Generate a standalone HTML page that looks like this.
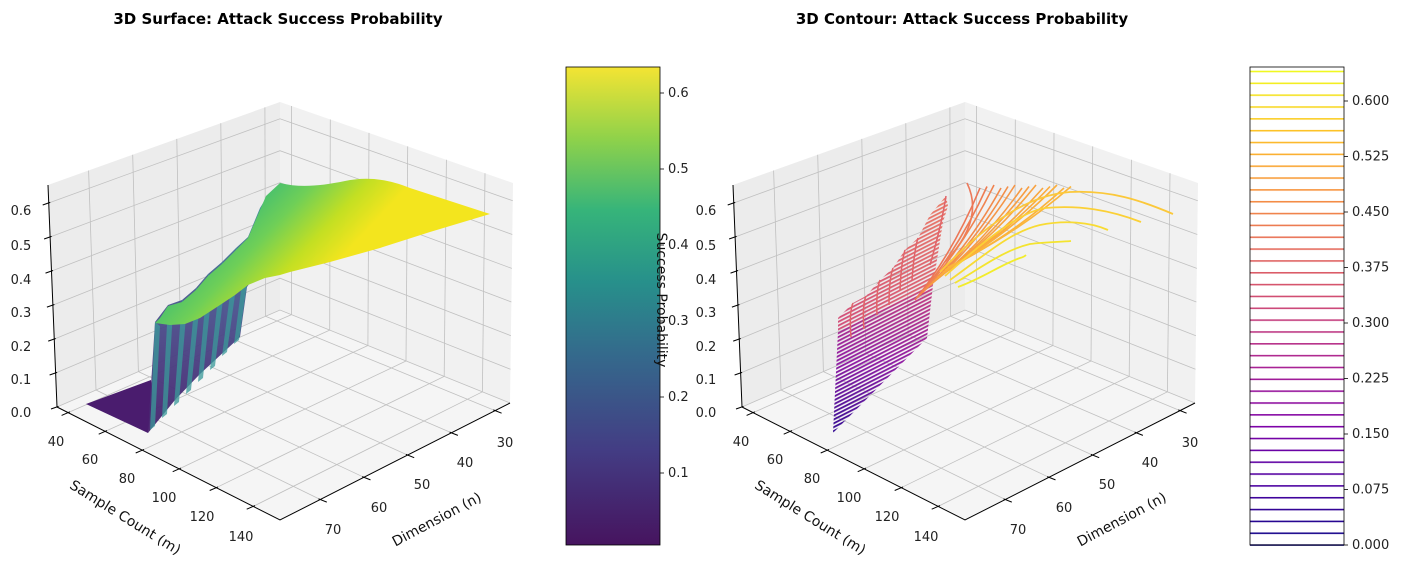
<!DOCTYPE html>
<html><head><meta charset="utf-8"><style>
html,body{margin:0;padding:0;background:#fff;}
svg{display:block;font-family:"DejaVu Sans","Liberation Sans",sans-serif;}
.t{font-size:13px;fill:#222;}
.ttl{font-size:15px;font-weight:bold;fill:#000;}
.al{font-size:14px;fill:#111;}
</style></head><body>
<svg width="1403" height="571" viewBox="0 0 1403 571" xmlns="http://www.w3.org/2000/svg">
<defs>
<linearGradient id="vir" x1="0" y1="1" x2="0" y2="0">
<stop offset="0" stop-color="#46145f"/><stop offset="0.2" stop-color="#433d84"/><stop offset="0.4" stop-color="#346a8c"/><stop offset="0.55" stop-color="#27908b"/><stop offset="0.7" stop-color="#36b47a"/><stop offset="0.85" stop-color="#8fd24a"/><stop offset="1" stop-color="#f4e433"/>
</linearGradient>
<linearGradient id="pla" gradientUnits="userSpaceOnUse" x1="0" y1="545" x2="0" y2="71">
<stop offset="0" stop-color="#0d0887"/><stop offset="0.125" stop-color="#4c02a1"/><stop offset="0.25" stop-color="#7e03a8"/><stop offset="0.375" stop-color="#a92395"/><stop offset="0.5" stop-color="#cc4778"/><stop offset="0.625" stop-color="#e56b5d"/><stop offset="0.75" stop-color="#f89540"/><stop offset="0.875" stop-color="#fdc328"/><stop offset="1" stop-color="#f0f921"/>
</linearGradient>
<pattern id="cbp" patternUnits="userSpaceOnUse" x="0" y="544.3" width="200" height="11.84">
<rect width="200" height="11.84" fill="#000"/><rect width="200" height="1.6" fill="#fff"/>
</pattern>
<mask id="cbm" maskUnits="userSpaceOnUse" x="1250" y="67" width="94" height="479"><rect x="1250" y="67" width="94" height="479" fill="url(#cbp)"/></mask>
<linearGradient id="surf" gradientUnits="userSpaceOnUse" x1="250" y1="195" x2="330" y2="270">
<stop offset="0" stop-color="#3dbc74"/><stop offset="0.35" stop-color="#6fcf57"/><stop offset="0.7" stop-color="#c2df23"/><stop offset="1" stop-color="#f3e51e"/>
</linearGradient>
<linearGradient id="wall" gradientUnits="userSpaceOnUse" x1="0" y1="430" x2="0" y2="200">
<stop offset="0" stop-color="#47216e"/><stop offset="0.5" stop-color="#4a4f8c"/><stop offset="1" stop-color="#3a8a9a"/>
</linearGradient>
<linearGradient id="purp" gradientUnits="userSpaceOnUse" x1="880" y1="435" x2="880" y2="290">
<stop offset="0" stop-color="#2f0a92"/><stop offset="0.5" stop-color="#8f1ba3"/><stop offset="1" stop-color="#c53e80"/>
</linearGradient>
<linearGradient id="pink" gradientUnits="userSpaceOnUse" x1="880" y1="330" x2="930" y2="195">
<stop offset="0" stop-color="#d3507a"/><stop offset="1" stop-color="#ea7a66"/>
</linearGradient>
<pattern id="hatch" patternUnits="userSpaceOnUse" width="6" height="3.4" patternTransform="rotate(-27)">
<rect width="6" height="3.4" fill="#000"/><rect width="6" height="1.8" fill="#fff"/>
</pattern>
<mask id="hm" maskUnits="userSpaceOnUse" x="0" y="0" width="1403" height="571"><rect width="1403" height="571" fill="url(#hatch)"/></mask>

<g id="panel">
<polygon points="280,310 57,407 48,185 280,102" fill="#ececec"/>
<polygon points="280,310 510,403 513,183 280,102" fill="#f1f1f1"/>
<polygon points="280,310 57,407 280,520 510,403" fill="#f5f5f5"/>
<g stroke="#c0c0c0" stroke-width="0.8">
<line x1="265.5" y1="316.3" x2="264.9" y2="107.4"/><line x1="223.1" y1="334.7" x2="220.8" y2="123.2"/><line x1="180.8" y1="353.2" x2="176.8" y2="138.9"/><line x1="138.4" y1="371.6" x2="132.7" y2="154.7"/><line x1="96" y1="390" x2="88.6" y2="170.5"/>
<line x1="265.5" y1="316.3" x2="495.1" y2="410.6"/><line x1="223.1" y1="334.7" x2="451.4" y2="432.8"/><line x1="180.8" y1="353.2" x2="407.7" y2="455.1"/><line x1="138.4" y1="371.6" x2="364" y2="477.3"/><line x1="96" y1="390" x2="320.3" y2="499.5"/>
<line x1="291.5" y1="314.6" x2="291.6" y2="106"/><line x1="329.7" y1="330.1" x2="330.3" y2="119.5"/><line x1="367.9" y1="345.5" x2="369" y2="132.9"/><line x1="406" y1="361" x2="407.7" y2="146.4"/><line x1="444.2" y1="376.4" x2="446.4" y2="159.8"/><line x1="482.4" y1="391.8" x2="485" y2="173.3"/>
<line x1="291.5" y1="314.6" x2="68.1" y2="412.6"/><line x1="329.7" y1="330.1" x2="105.2" y2="431.4"/><line x1="367.9" y1="345.5" x2="142.2" y2="450.2"/><line x1="406" y1="361" x2="179.2" y2="468.9"/><line x1="444.2" y1="376.4" x2="216.2" y2="487.7"/><line x1="482.4" y1="391.8" x2="253.2" y2="506.4"/>
<polyline fill="none" points="57,407 280,310 510,403"/>
<polyline fill="none" points="55.6,373 280,278.2 510.5,369.3"/>
<polyline fill="none" points="54.2,339.1 280,246.4 510.9,335.7"/>
<polyline fill="none" points="52.9,305.1 280,214.5 511.4,302"/>
<polyline fill="none" points="51.5,271.1 280,182.7 511.8,268.4"/>
<polyline fill="none" points="50.1,237 280,150.7 512.3,234.5"/>
<polyline fill="none" points="48.7,203 280,118.8 512.8,200.8"/>
</g>
<g stroke="#000" stroke-width="1" fill="none">
<polyline points="57,407 280,520 510,403"/>
<line x1="57" y1="407" x2="48" y2="185"/>
<line x1="69.9" y1="411.8" x2="61.6" y2="415.4"/><line x1="107" y1="430.6" x2="98.7" y2="434.2"/><line x1="144" y1="449.4" x2="135.7" y2="453"/><line x1="181" y1="468.1" x2="172.7" y2="471.7"/><line x1="218" y1="486.9" x2="209.7" y2="490.5"/><line x1="255" y1="505.6" x2="246.7" y2="509.2"/>
<line x1="493.3" y1="409.9" x2="501.6" y2="413.2"/><line x1="449.6" y1="432.1" x2="457.9" y2="435.4"/><line x1="405.9" y1="454.4" x2="414.2" y2="457.7"/><line x1="362.2" y1="476.6" x2="370.5" y2="479.9"/><line x1="318.5" y1="498.8" x2="326.8" y2="502.1"/>
<line x1="58.5" y1="406.4" x2="51" y2="409"/><line x1="57.1" y1="372.4" x2="49.6" y2="375"/><line x1="55.7" y1="338.5" x2="48.2" y2="341.1"/><line x1="54.4" y1="304.5" x2="46.9" y2="307.1"/><line x1="53" y1="270.5" x2="45.5" y2="273.1"/><line x1="51.6" y1="236.4" x2="44.1" y2="239"/><line x1="50.2" y1="202.4" x2="42.7" y2="205"/>
</g>
</g>
</defs>

<use href="#panel" x="0" y="0"/>
<use href="#panel" x="685" y="0"/>

<!-- left surface -->
<polygon points="86,404 148,433 153,395 151,380" fill="#4a1c6e"/>
<polygon points="148,433 155,322 168,305 182,300 196,288 208,274 222,262 236,248 248,237 260,208 268,195 252,280 247,287 240,337 200,374 175,400" fill="url(#wall)" opacity="0.95"/>
<g fill="#3a9a9a" opacity="0.75">
<polygon points="150,430 155,322 160,326 155,426"/><polygon points="162,418 168,306 173,310 167,414"/><polygon points="174,406 182,300 187,304 179,402"/><polygon points="186,394 196,288 201,292 191,390"/><polygon points="198,382 208,274 213,278 203,378"/><polygon points="210,370 222,262 227,266 215,366"/><polygon points="222,356 236,248 241,252 227,352"/><polygon points="234,344 248,237 253,241 239,340"/>
</g>
<path d="M155,323 L160,318 L168,306 L182,302 L196,290 L208,276 L222,264 L236,250 L248,238 L260,210 L266,196 L280,183 C300,188 320,186 345,181 C365,177 385,178 410,188 L490,214 L430,232 L380,248 L330,262 L290,272 L280,275 L265,278 L248,285 L235,295 L220,305 L200,318 L185,324 L170,325 Z" fill="url(#surf)"/>

<!-- right contour -->
<g mask="url(#hm)">
<polygon points="833,433 838,331 933,285 927,338" fill="url(#purp)"/>
<polygon points="838,332 838,318 853,303 866,296 880,280 893,268 905,250 918,238 930,215 946,196 948,206 943,222 933,285" fill="url(#pink)"/>
</g>
<g stroke="#e0646a" stroke-width="1.5" fill="none">
<path d="M853,303 Q849,312.5 851,337"/><path d="M866,296 Q862,305 864,329"/><path d="M880,280 Q876,290 877,315"/><path d="M893,268 Q889,279 889,305"/><path d="M905,250 Q901,263 900,291"/><path d="M918,238 Q914,251.5 912,280"/><path d="M946,196 Q942,223 930,265"/>
</g>
<g fill="none" stroke-width="1.6">
<path d="M967,183 Q985,220 945,262" stroke="#ec7a5c"/>
<path d="M915,300 Q953.5,252 980,188" stroke="#ec7656"/>
<path d="M917.5,297.5 Q958.25,250 987,186.5" stroke="#ee7c53"/>
<path d="M920,295 Q963,248 994,185" stroke="#f0834f"/>
<path d="M922.5,292.5 Q967.75,248.25 1001,188" stroke="#f28a4c"/>
<path d="M925,290 Q972.5,246.25 1008,186.5" stroke="#f38f49"/>
<path d="M927.5,287.5 Q977.25,244.25 1015,185" stroke="#f59546"/>
<path d="M930,285 Q982,244.5 1022,188" stroke="#f69a44"/>
<path d="M932.5,282.5 Q986.75,242.5 1029,186.5" stroke="#f79e42"/>
<path d="M935,280 Q991.5,240.5 1036,185" stroke="#f8a240"/>
<path d="M937.5,277.5 Q996.25,240.75 1043,188" stroke="#f9a63e"/>
<path d="M940,275 Q1001,238.75 1050,186.5" stroke="#faaa3d"/>
<path d="M942.5,272.5 Q1005.75,236.75 1057,185" stroke="#faae3c"/>
<path d="M945,270 Q1010.5,237 1064,188" stroke="#fbb23b"/>
<path d="M947.5,267.5 Q1015.25,235 1071,186.5" stroke="#fbb53a"/>
</g>
<g fill="none" stroke-width="1.8">
<path d="M940,272 C990,220 1030,195 1070,192 C1110,190 1140,200 1173,214" stroke="#fbc83a"/>
<path d="M945,276 C985,240 1020,212 1045,208 C1080,205 1110,210 1141,222" stroke="#fbd036"/>
<path d="M950,280 C985,255 1010,232 1040,225 C1065,220 1090,222 1108,230" stroke="#f8db33"/>
<path d="M955,283 C985,265 1005,250 1030,244 C1045,242 1060,242 1071,241" stroke="#f4e42f"/>
<path d="M958,287 C985,277 1000,265 1020,258 C1024,257 1025,256 1026,255" stroke="#f2ec2b"/>
</g>

<text class="ttl" x="278" y="24" text-anchor="middle">3D Surface: Attack Success Probability</text>
<text class="ttl" x="962" y="24" text-anchor="middle">3D Contour: Attack Success Probability</text>

<g class="t" text-anchor="middle">
<text x="21" y="215">0.6</text><text x="21" y="250">0.5</text><text x="21" y="284">0.4</text><text x="21" y="317">0.3</text><text x="21" y="351">0.2</text><text x="21" y="384">0.1</text><text x="21" y="417">0.0</text>
<text x="56" y="446">40</text><text x="90" y="464">60</text><text x="127" y="483">80</text><text x="164" y="502">100</text><text x="202" y="521">120</text><text x="241" y="541">140</text>
<text x="505" y="447">30</text><text x="465" y="467">40</text><text x="422" y="489">50</text><text x="379" y="512">60</text><text x="333" y="534">70</text>
</g>
<text class="al" transform="translate(125,518) rotate(32)" text-anchor="middle" dominant-baseline="middle">Sample Count (m)</text>
<text class="al" transform="translate(437,520) rotate(-28)" text-anchor="middle" dominant-baseline="middle">Dimension (n)</text>
<g class="t" text-anchor="middle">
<text x="706" y="215">0.6</text><text x="706" y="250">0.5</text><text x="706" y="284">0.4</text><text x="706" y="317">0.3</text><text x="706" y="351">0.2</text><text x="706" y="384">0.1</text><text x="706" y="417">0.0</text>
<text x="741" y="446">40</text><text x="775" y="464">60</text><text x="812" y="483">80</text><text x="849" y="502">100</text><text x="887" y="521">120</text><text x="926" y="541">140</text>
<text x="1190" y="447">30</text><text x="1150" y="467">40</text><text x="1107" y="489">50</text><text x="1064" y="512">60</text><text x="1018" y="534">70</text>
</g>
<text class="al" transform="translate(810,518) rotate(32)" text-anchor="middle" dominant-baseline="middle">Sample Count (m)</text>
<text class="al" transform="translate(1122,520) rotate(-28)" text-anchor="middle" dominant-baseline="middle">Dimension (n)</text>

<rect x="566" y="67" width="94" height="478" fill="url(#vir)"/>
<rect x="566" y="67" width="94" height="478" fill="none" stroke="#000" stroke-width="0.8"/>
<g class="t">
<text x="668" y="477">0.1</text><text x="668" y="401">0.2</text><text x="668" y="325">0.3</text><text x="668" y="249">0.4</text><text x="668" y="173">0.5</text><text x="668" y="97">0.6</text>
</g>
<g stroke="#000" stroke-width="0.8"><line x1="660" y1="473" x2="664" y2="473"/><line x1="660" y1="397" x2="664" y2="397"/><line x1="660" y1="321" x2="664" y2="321"/><line x1="660" y1="245" x2="664" y2="245"/><line x1="660" y1="169" x2="664" y2="169"/><line x1="660" y1="93" x2="664" y2="93"/></g>
<text class="al" transform="translate(657,300) rotate(90)" text-anchor="middle">Success Probability</text>

<rect x="1250" y="67" width="94" height="478" fill="#fff"/>
<rect x="1250" y="67" width="94" height="479" fill="url(#pla)" mask="url(#cbm)"/>
<rect x="1250" y="67" width="94" height="478" fill="none" stroke="#000" stroke-width="0.8"/>
<g stroke="#000" stroke-width="0.8">
<line x1="1344" y1="545" x2="1348" y2="545"/><line x1="1344" y1="489.5" x2="1348" y2="489.5"/><line x1="1344" y1="434" x2="1348" y2="434"/><line x1="1344" y1="378.5" x2="1348" y2="378.5"/><line x1="1344" y1="323" x2="1348" y2="323"/><line x1="1344" y1="267.5" x2="1348" y2="267.5"/><line x1="1344" y1="212" x2="1348" y2="212"/><line x1="1344" y1="156.5" x2="1348" y2="156.5"/><line x1="1344" y1="101" x2="1348" y2="101"/>
</g>
<g class="t">
<text x="1352" y="549">0.000</text><text x="1352" y="493.5">0.075</text><text x="1352" y="438">0.150</text><text x="1352" y="382.5">0.225</text><text x="1352" y="327">0.300</text><text x="1352" y="271.5">0.375</text><text x="1352" y="216">0.450</text><text x="1352" y="160.5">0.525</text><text x="1352" y="105">0.600</text>
</g>
</svg>
</body></html>
